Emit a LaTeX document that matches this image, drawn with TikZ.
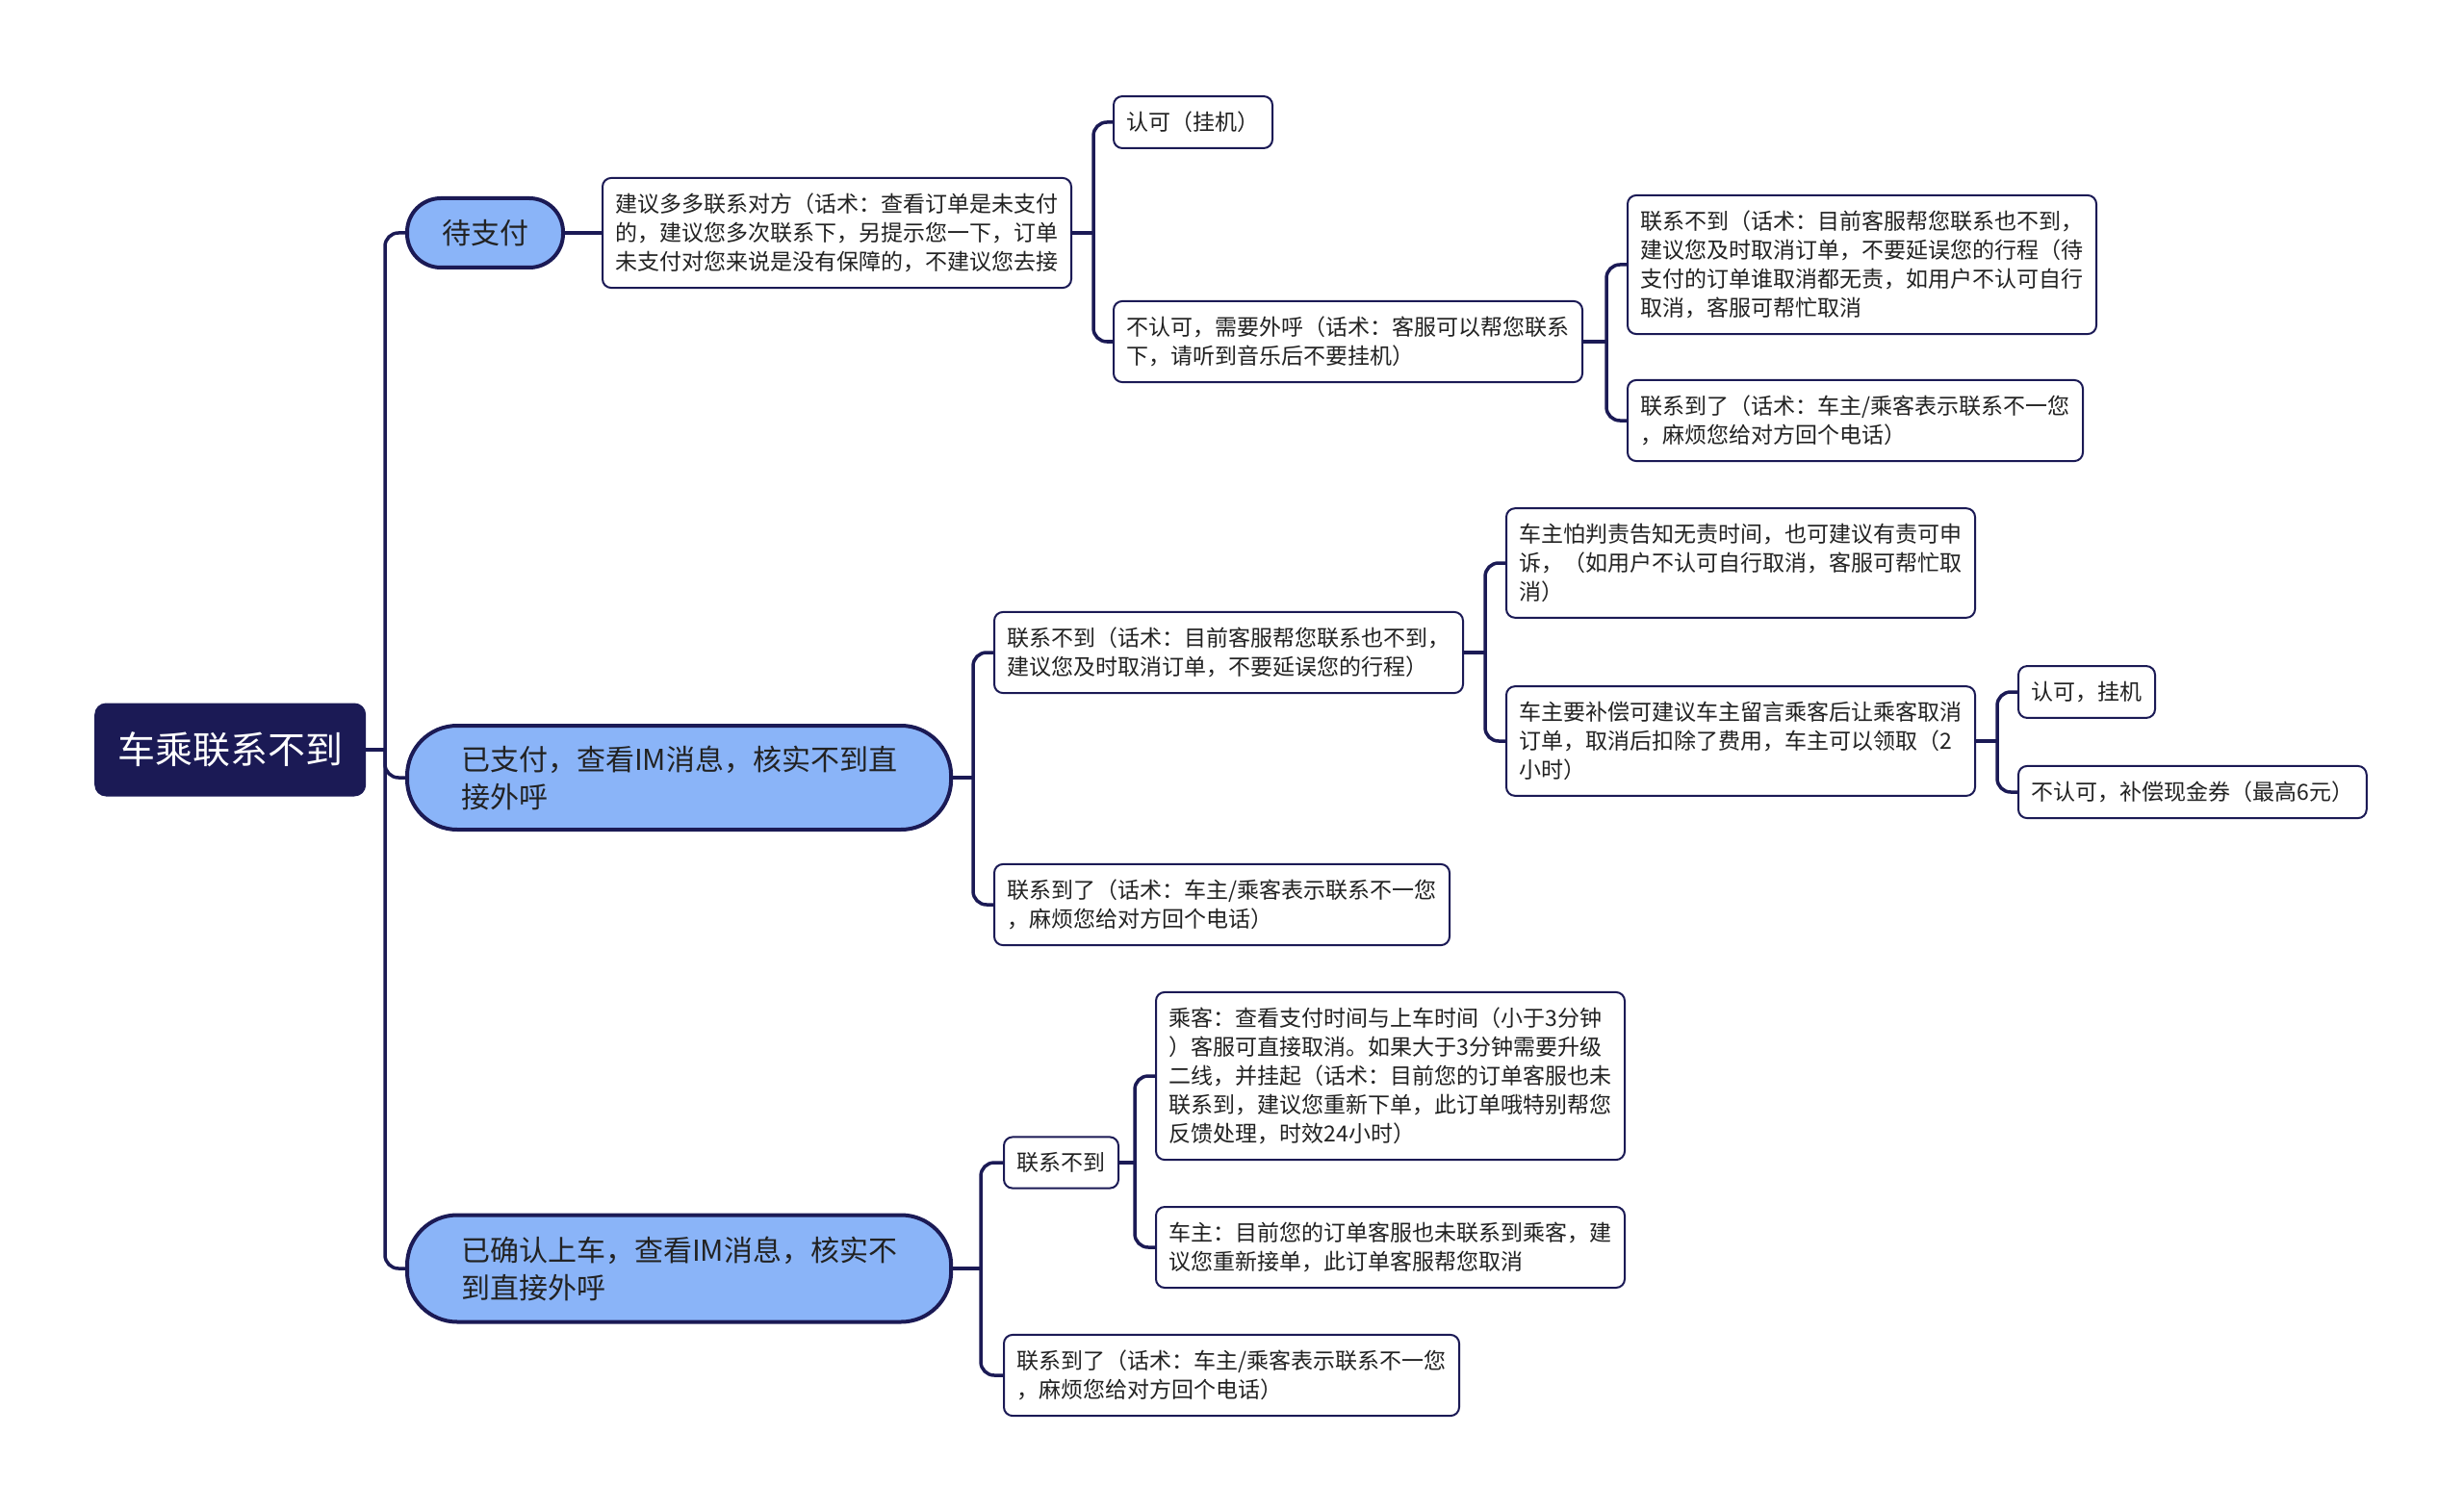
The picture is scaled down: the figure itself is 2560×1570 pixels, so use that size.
\documentclass[tikz,border=0pt]{standalone}
\usepackage{fontspec}
\newfontfamily\cjk{Noto Sans CJK SC}
\usepackage{xcolor}
\usepackage{tikz}

\definecolor{navy}{HTML}{1B1A55}
\definecolor{topicblue}{HTML}{8AB4F8}
\definecolor{ink}{HTML}{222222}

\begin{document}
\begin{tikzpicture}[
x=1pt,
y=-1pt,
every node/.style={font=\cjk},
root/.style={rectangle,rounded corners=12pt,fill=navy,text=white,font=\cjk\fontsize{39}{47}\selectfont,minimum width=282pt,minimum height=97pt,inner sep=0pt,anchor=west},
topic/.style={rectangle,rounded corners=52pt,draw=navy,line width=4pt,fill=topicblue,text=ink,align=left,inner xsep=56pt,inner ysep=4pt,minimum height=108pt,font=\cjk\fontsize{30}{39}\selectfont,anchor=west},
leaf/.style={rectangle,rounded corners=9pt,draw=navy,line width=2pt,fill=white,text=ink,align=left,inner xsep=13.5pt,inner ysep=16pt,font=\cjk\fontsize{23}{30}\selectfont,anchor=west},
link/.style={draw=navy,line width=3.5pt,rounded corners=14pt}
]
\useasboundingbox (0,0) rectangle (2560,1570);
\fill[white] (0,0) rectangle (2560,1570);

% root and main branches
\node[root] (root) at (98,779) {车乘联系不到};
\node[topic,rounded corners=35pt,minimum height=72pt,minimum width=162pt,inner xsep=20pt,align=center] (wait) at (421,242) {待支付};
\node[topic] (paid) at (421,808) {已支付，查看IM消息，核实不到直\\接外呼};
\node[topic,minimum height=111pt] (board) at (421,1318) {已确认上车，查看IM消息，核实不\\到直接外呼};

% waiting for payment
\node[leaf] (advise) at (625,242) {建议多多联系对方（话术：查看订单是未支付\\的，建议您多次联系下，另提示您一下，订单\\未支付对您来说是没有保障的，不建议您去接};
\node[leaf] (ok1) at (1156,127) {认可（挂机）};
\node[leaf] (call) at (1156,355) {不认可，需要外呼（话术：客服可以帮您联系\\下，请听到音乐后不要挂机）};
\node[leaf] (fail1) at (1690,275) {联系不到（话术：目前客服帮您联系也不到，\\建议您及时取消订单，不要延误您的行程（待\\支付的订单谁取消都无责，如用户不认可自行\\取消，客服可帮忙取消};
\node[leaf] (reach1) at (1690,437) {联系到了（话术：车主/乘客表示联系不一您\\，麻烦您给对方回个电话）};

% paid
\node[leaf] (fail2) at (1032,678) {联系不到（话术：目前客服帮您联系也不到，\\建议您及时取消订单，不要延误您的行程）};
\node[leaf] (blame) at (1564,585) {车主怕判责告知无责时间，也可建议有责可申\\诉，（如用户不认可自行取消，客服可帮忙取\\消）};
\node[leaf] (comp) at (1564,770) {车主要补偿可建议车主留言乘客后让乘客取消\\订单，取消后扣除了费用，车主可以领取（2\\小时）};
\node[leaf] (ok2) at (2096,719) {认可，挂机};
\node[leaf] (coupon) at (2096,823) {不认可，补偿现金券（最高6元）};
\node[leaf] (reach2) at (1032,940) {联系到了（话术：车主/乘客表示联系不一您\\，麻烦您给对方回个电话）};

% boarded
\node[leaf] (fail3) at (1042,1208) {联系不到};
\node[leaf] (pax) at (1200,1118) {乘客：查看支付时间与上车时间（小于3分钟\\）客服可直接取消。如果大于3分钟需要升级\\二线，并挂起（话术：目前您的订单客服也未\\联系到，建议您重新下单，此订单哦特别帮您\\反馈处理，时效24小时）};
\node[leaf] (drv) at (1200,1296) {车主：目前您的订单客服也未联系到乘客，建\\议您重新接单，此订单客服帮您取消};
\node[leaf] (reach3) at (1042,1429) {联系到了（话术：车主/乘客表示联系不一您\\，麻烦您给对方回个电话）};

% junctions
\coordinate (root-j) at (400,779);
\coordinate (advise-j) at (1136,242);
\coordinate (call-j) at (1669,355);
\coordinate (paid-j) at (1011,808);
\coordinate (fail2-j) at (1543,678);
\coordinate (comp-j) at (2075,770);
\coordinate (board-j) at (1019,1318);
\coordinate (fail3-j) at (1179,1208);

\draw[link] (root.east) -- (root-j);
\draw[link] (root-j) |- (wait.west);
\draw[link] (root-j) |- (paid.west);
\draw[link] (root-j) |- (board.west);

\draw[link] (wait.east) -- (advise.west);
\draw[link] (advise.east) -- (advise-j);
\draw[link] (advise-j) |- (ok1.west);
\draw[link] (advise-j) |- (call.west);
\draw[link] (call.east) -- (call-j);
\draw[link] (call-j) |- (fail1.west);
\draw[link] (call-j) |- (reach1.west);

\draw[link] (paid.east) -- (paid-j);
\draw[link] (paid-j) |- (fail2.west);
\draw[link] (paid-j) |- (reach2.west);
\draw[link] (fail2.east) -- (fail2-j);
\draw[link] (fail2-j) |- (blame.west);
\draw[link] (fail2-j) |- (comp.west);
\draw[link] (comp.east) -- (comp-j);
\draw[link] (comp-j) |- (ok2.west);
\draw[link] (comp-j) |- (coupon.west);

\draw[link] (board.east) -- (board-j);
\draw[link] (board-j) |- (fail3.west);
\draw[link] (board-j) |- (reach3.west);
\draw[link] (fail3.east) -- (fail3-j);
\draw[link] (fail3-j) |- (pax.west);
\draw[link] (fail3-j) |- (drv.west);
\end{tikzpicture}
\end{document}
